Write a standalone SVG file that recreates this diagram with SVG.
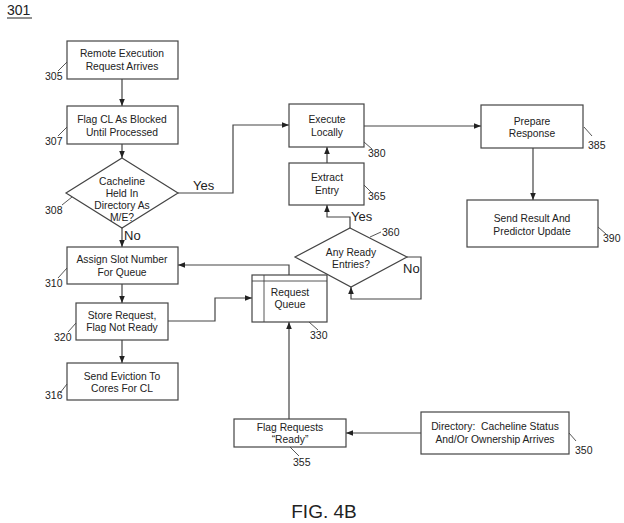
<svg xmlns="http://www.w3.org/2000/svg" width="624" height="523" viewBox="0 0 624 523">
<style>
.b{fill:#fff;stroke:#444;stroke-width:1.2}
.t{font-family:"Liberation Sans",Arial,sans-serif;font-size:10.3px;fill:#222;text-anchor:middle;white-space:pre}
.n{font-family:"Liberation Sans",Arial,sans-serif;font-size:10.5px;fill:#222}
.y{font-family:"Liberation Sans",Arial,sans-serif;font-size:13px;fill:#222}
.c{fill:none;stroke:#444;stroke-width:1.2}
.l{fill:none;stroke:#444;stroke-width:0.9}
</style>
<defs>
<marker id="a" viewBox="0 0 10 10" refX="10" refY="5" markerWidth="7" markerHeight="7" markerUnits="userSpaceOnUse" orient="auto">
<path d="M0,1 L10,5 L0,9 z" fill="#222"/>
</marker>
</defs>
<rect width="624" height="523" fill="#fff"/>
<text x="7" y="15" class="n" style="font-size:14px">301</text>
<line x1="7" y1="18" x2="32" y2="18" stroke="#222" stroke-width="1"/>

<g id="connectors">
<path class="c" d="M122,79 V106" marker-end="url(#a)"/>
<path class="c" d="M122,144 V158" marker-end="url(#a)"/>
<path class="c" d="M122,228 V247" marker-end="url(#a)"/>
<path class="c" d="M178,193 H233 V125 H289" marker-end="url(#a)"/>
<path class="c" d="M122,284 V303" marker-end="url(#a)"/>
<path class="c" d="M122,340 V363" marker-end="url(#a)"/>
<path class="c" d="M168,321 H215 V298 H252" marker-end="url(#a)"/>
<path class="c" d="M289,275 V265 H178" marker-end="url(#a)"/>
<path class="c" d="M289,419 V322" marker-end="url(#a)"/>
<path class="c" d="M421,433 H346" marker-end="url(#a)"/>
<path class="c" d="M407,257 H421 V299 H351 V287" marker-end="url(#a)"/>
<path class="c" d="M350,228 V217 H327 V205" marker-end="url(#a)"/>
<path class="c" d="M327,163 V147" marker-end="url(#a)"/>
<path class="c" d="M364,126 H481" marker-end="url(#a)"/>
<path class="c" d="M533,148 V200" marker-end="url(#a)"/>
<text x="193" y="190" class="y">Yes</text>
<text x="124" y="240" class="y">No</text>
<text x="351" y="221" class="y">Yes</text>
<text x="403" y="273" class="y">No</text>
</g>

<g id="n305">
<rect class="b" x="67" y="41" width="111" height="38"/>
<text class="t" x="122" y="57">Remote Execution</text>
<text class="t" x="122" y="70">Request Arrives</text>
<path class="l" d="M67,62 L58,71"/>
<text class="n" x="45" y="80">305</text>
</g>

<g id="n307">
<rect class="b" x="67" y="106" width="111" height="38"/>
<text class="t" x="122" y="123">Flag CL As Blocked</text>
<text class="t" x="122" y="136">Until Processed</text>
<path class="l" d="M67,127 L58,136"/>
<text class="n" x="45" y="145">307</text>
</g>

<g id="n308">
<path class="b" d="M122,158 L178,193 L122,228 L66,193 Z"/>
<text class="t" x="122" y="185">Cacheline</text>
<text class="t" x="122" y="197">Held In</text>
<text class="t" x="122" y="209">Directory As</text>
<text class="t" x="122" y="221">M/E?</text>
<path class="l" d="M72,197 L62,205"/>
<text class="n" x="45" y="214">308</text>
</g>

<g id="n310">
<rect class="b" x="67" y="247" width="111" height="37"/>
<text class="t" x="122" y="263">Assign Slot Number</text>
<text class="t" x="122" y="276">For Queue</text>
<path class="l" d="M67,268 L58,278"/>
<text class="n" x="45" y="287">310</text>
</g>

<g id="n320">
<rect class="b" x="76" y="303" width="92" height="37"/>
<text class="t" x="122" y="319">Store Request,</text>
<text class="t" x="122" y="331">Flag Not Ready</text>
<path class="l" d="M76,323 L68,332"/>
<text class="n" x="54" y="341">320</text>
</g>

<g id="n316">
<rect class="b" x="67" y="363" width="111" height="37"/>
<text class="t" x="122" y="380">Send Eviction To</text>
<text class="t" x="122" y="392">Cores For CL</text>
<path class="l" d="M67,384 L60,393"/>
<text class="n" x="45" y="399">316</text>
</g>

<g id="n330">
<rect class="b" x="252" y="275" width="75" height="47"/>
<line class="l" x1="264" y1="275" x2="264" y2="322"/>
<line class="l" x1="252" y1="281" x2="327" y2="281"/>
<text class="t" x="290" y="296">Request</text>
<text class="t" x="290" y="308">Queue</text>
<path class="l" d="M309,322 L318,330"/>
<text class="n" x="310" y="339">330</text>
</g>

<g id="n355">
<rect class="b" x="234" y="419" width="112" height="28"/>
<text class="t" x="290" y="431">Flag Requests</text>
<text class="t" x="290" y="443">“Ready”</text>
<path class="l" d="M290,447 L299,456"/>
<text class="n" x="293" y="466">355</text>
</g>

<g id="n350">
<rect class="b" x="421" y="412" width="148" height="42"/>
<text class="t" x="495" y="430" xml:space="preserve">Directory:  Cacheline Status</text>
<text class="t" x="495" y="443">And/Or Ownership Arrives</text>
<path class="l" d="M569,433 L576,441"/>
<text class="n" x="575" y="454">350</text>
</g>

<g id="n360">
<path class="b" d="M350,228 L407,257 L351,287 L295,257 Z"/>
<text class="t" x="351" y="256">Any Ready</text>
<text class="t" x="351" y="268">Entries?</text>
<path class="l" d="M370,237 L381,232"/>
<text class="n" x="382" y="236">360</text>
</g>

<g id="n365">
<rect class="b" x="289" y="163" width="75" height="42"/>
<text class="t" x="327" y="181">Extract</text>
<text class="t" x="327" y="194">Entry</text>
<path class="l" d="M364,185 L371,192"/>
<text class="n" x="368" y="200">365</text>
</g>

<g id="n380">
<rect class="b" x="289" y="104" width="75" height="43"/>
<text class="t" x="327" y="123">Execute</text>
<text class="t" x="327" y="136">Locally</text>
<path class="l" d="M364,142 L372,149"/>
<text class="n" x="368" y="157">380</text>
</g>

<g id="n385">
<rect class="b" x="481" y="105" width="102" height="43"/>
<text class="t" x="532" y="125">Prepare</text>
<text class="t" x="532" y="137">Response</text>
<path class="l" d="M584,127 L592,136"/>
<text class="n" x="588" y="149">385</text>
</g>

<g id="n390">
<rect class="b" x="467" y="200" width="131" height="47"/>
<text class="t" x="532" y="222">Send Result And</text>
<text class="t" x="532" y="235">Predictor Update</text>
<path class="l" d="M598,227 L606,234"/>
<text class="n" x="603" y="242">390</text>
</g>

<text x="324" y="518" style="font-family:'Liberation Sans',Arial,sans-serif;font-size:19px;fill:#222;text-anchor:middle">FIG. 4B</text>
</svg>
